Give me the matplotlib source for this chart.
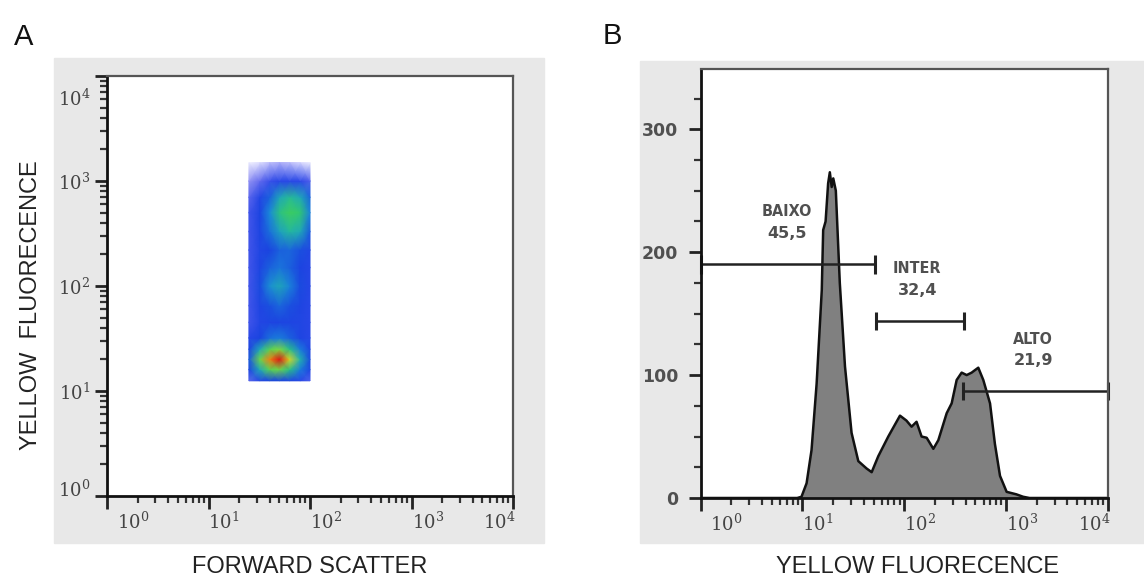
import matplotlib.pyplot as plt
import matplotlib.transforms as mtransforms
from matplotlib.colors import LinearSegmentedColormap
from matplotlib.patches import Rectangle
from matplotlib.ticker import LogLocator, MultipleLocator, NullFormatter

plt.rcParams['font.family'] = ['DejaVu Sans']
plt.rcParams['mathtext.fontset'] = 'dejavuserif'

# ---- panel A: event density, forward scatter vs yellow fluorescence ----
fsc_grid = [25, 32, 40, 50, 63, 80, 100]
yfl_grid = [12.5, 16, 20, 25, 32, 45, 65, 100, 150, 220, 330, 500, 700, 1000, 1500]
density = [
    [0.16, 0.24, 0.30, 0.30, 0.27, 0.22, 0.17],
    [0.28, 0.46, 0.60, 0.62, 0.52, 0.38, 0.28],
    [0.33, 0.62, 0.88, 1.00, 0.76, 0.48, 0.31],
    [0.28, 0.46, 0.60, 0.64, 0.52, 0.38, 0.28],
    [0.22, 0.30, 0.36, 0.38, 0.34, 0.28, 0.23],
    [0.18, 0.25, 0.28, 0.29, 0.28, 0.26, 0.22],
    [0.18, 0.27, 0.32, 0.35, 0.32, 0.28, 0.23],
    [0.18, 0.31, 0.41, 0.45, 0.39, 0.31, 0.24],
    [0.18, 0.28, 0.34, 0.37, 0.34, 0.29, 0.24],
    [0.18, 0.26, 0.30, 0.34, 0.35, 0.32, 0.26],
    [0.18, 0.28, 0.36, 0.44, 0.49, 0.46, 0.33],
    [0.18, 0.29, 0.40, 0.52, 0.57, 0.54, 0.39],
    [0.16, 0.25, 0.34, 0.45, 0.50, 0.46, 0.35],
    [0.11, 0.15, 0.19, 0.22, 0.22, 0.20, 0.17],
    [0.02, 0.05, 0.08, 0.09, 0.08, 0.06, 0.03],
]

# ---- panel B: yellow fluorescence histogram ----
yfl_values = [1, 8.9, 9.8, 11.0, 12.3, 13.8, 15.5, 16.0, 16.9, 17.9, 18.6, 19.4, 20.1, 21.3,
              23.3, 26.2, 30.4, 35.4, 42.7, 47.9, 55.6, 69.7, 90.8, 105, 118, 132, 148,
              166, 193, 216, 261, 292, 327, 366, 410, 459, 494, 533, 597, 695, 776, 871,
              1012, 1259, 1469, 1698, 10000]
event_counts = [0, 0, 1, 12, 39, 93, 169, 218, 225, 256, 265, 253, 260, 250,
                175, 107, 53, 30, 24, 21, 34, 50, 67, 63, 58, 62, 50,
                49, 40, 47, 69, 77, 96, 102, 100, 102, 104, 106, 96, 77, 44, 18,
                5, 3, 1, 0, 0]

gate_names = ['BAIXO', 'INTER', 'ALTO']
gate_percent = ['45,5', '32,4', '21,9']
gate_start = [1, 52.5, 375]
gate_end = [51.5, 386, 10000]
gate_level = [190, 144, 87]
label_x = [7.0, 134, 1850]
name_y = [233, 187, 129]
pct_y = [215, 169, 112]

decades = [1, 10, 100, 1000, 10000]
decade_labels = ['$10^{0}$', '$10^{1}$', '$10^{2}$', '$10^{3}$', '$10^{4}$']

W, H = 1144, 581
fig = plt.figure(figsize=(W / 100, H / 100), dpi=100)

# grey panel backgrounds
fig.patches.append(Rectangle((54 / W, 1 - 543 / H), 490 / W, 485 / H,
                             transform=fig.transFigure, color='#e8e8e8', zorder=-10))
fig.patches.append(Rectangle((640 / W, 1 - 543 / H), 504 / W, 482 / H,
                             transform=fig.transFigure, color='#e8e8e8', zorder=-10))

axA = fig.add_axes([107 / W, 1 - 496 / H, 406 / W, 420 / H])
axB = fig.add_axes([700.5 / W, 1 - 498 / H, 407.5 / W, 429 / H])

cmap = LinearSegmentedColormap.from_list('flow', [
    (0.0, '#ffffff'), (0.06, '#d8d8ff'), (0.13, '#7878f0'), (0.20, '#2c48e8'),
    (0.30, '#1a44e0'), (0.40, '#1a8ad8'), (0.48, '#22b4a8'), (0.56, '#34cc64'),
    (0.68, '#a0e030'), (0.80, '#f0d020'), (0.90, '#f07010'), (1.0, '#e01010')])

axA.pcolormesh(fsc_grid, yfl_grid, density, cmap=cmap, vmin=0, vmax=1,
               shading='gouraud', rasterized=True)

tick_color = '#444444'
for ax in (axA, axB):
    ax.set_facecolor('white')
    ax.set_xscale('log')
    ax.set_xlim(1, 10000)
    ax.set_xticks(decades, labels=decade_labels)
    ax.xaxis.set_minor_locator(LogLocator(base=10, subs=range(2, 10), numticks=20))
    ax.xaxis.set_minor_formatter(NullFormatter())
    ax.tick_params(which='major', length=9, width=2, color='#222222',
                   labelsize=13, labelcolor=tick_color)
    ax.tick_params(which='minor', length=5, width=1.6, color='#333333')
    for side in ('left', 'bottom'):
        ax.spines[side].set_linewidth(2)
        ax.spines[side].set_color('#111111')
    for side in ('top', 'right'):
        ax.spines[side].set_linewidth(1.6)
        ax.spines[side].set_color('#555555')

axA.set_yscale('log')
axA.set_ylim(1, 10000)
axA.set_yticks(decades, labels=decade_labels)
axA.yaxis.set_minor_locator(LogLocator(base=10, subs=range(2, 10), numticks=20))
axA.yaxis.set_minor_formatter(NullFormatter())
axA.tick_params(axis='y', which='major', pad=3)
axA.tick_params(axis='x', which='major', pad=2)

# histogram
axB.fill_between(yfl_values, event_counts, color='#808080', lw=0)
axB.plot(yfl_values, event_counts, color='#111111', lw=1.8)
axB.set_ylim(0, 349)
axB.yaxis.set_major_locator(MultipleLocator(100))
axB.yaxis.set_minor_locator(MultipleLocator(25))
axB.tick_params(axis='y', which='major', pad=7, labelsize=12.5)
axB.tick_params(axis='x', which='major', pad=2)
for lbl in axB.get_yticklabels():
    lbl.set_fontweight('bold')
    lbl.set_color('#505050')

for name, pct, x0, x1, lev, lx, ny, py in zip(gate_names, gate_percent, gate_start, gate_end,
                                              gate_level, label_x, name_y, pct_y):
    axB.plot([x0, x1], [lev, lev], color='#222222', lw=1.8, solid_capstyle='butt')
    for xe in (x0, x1):
        axB.plot([xe, xe], [lev - 7.5, lev + 7.5], color='#222222', lw=2.2,
                 solid_capstyle='butt', clip_on=False)
    axB.text(lx, ny, name, ha='center', va='center', fontsize=11.5, color='#505050',
             fontweight='bold', fontstretch='condensed')
    axB.text(lx, py, pct, ha='center', va='center', fontsize=11.5, color='#505050',
             fontweight='bold')


def shift(lbl, dx, dy):
    lbl.set_transform(lbl.get_transform() +
                      mtransforms.ScaledTranslation(dx / 100, dy / 100, fig.dpi_scale_trans))


for ax in (axA, axB):
    xl = ax.get_xticklabels()
    for lbl in xl:
        lbl.set_ha('left')
    xl[-1].set_ha('right')
    shift(xl[-1], 2, 0)
    shift(xl[0], 10, 0)

yl = axA.get_yticklabels()
shift(yl[-1], 0, -21)
shift(yl[0], 0, 8)

# axis titles and panel letters
lab = dict(family='Liberation Sans', fontsize=17, color='#222222')
fig.text(310 / W, 1 - 567 / H, 'FORWARD SCATTER', ha='center', va='center', **lab)
fig.text(918 / W, 1 - 567 / H, 'YELLOW FLUORECENCE', ha='center', va='center', **lab)
fig.text(31 / W, 1 - 305 / H, 'YELLOW  FLUORECENCE', ha='center', va='center',
         rotation=90, **lab)
fig.text(24 / W, 1 - 37 / H, 'A', ha='center', va='center', family='Liberation Sans',
         fontsize=21, color='#111111')
fig.text(612 / W, 1 - 36 / H, 'B', ha='center', va='center', family='Liberation Sans',
         fontsize=21, color='#111111')

fig.savefig('out.png', dpi=100)
